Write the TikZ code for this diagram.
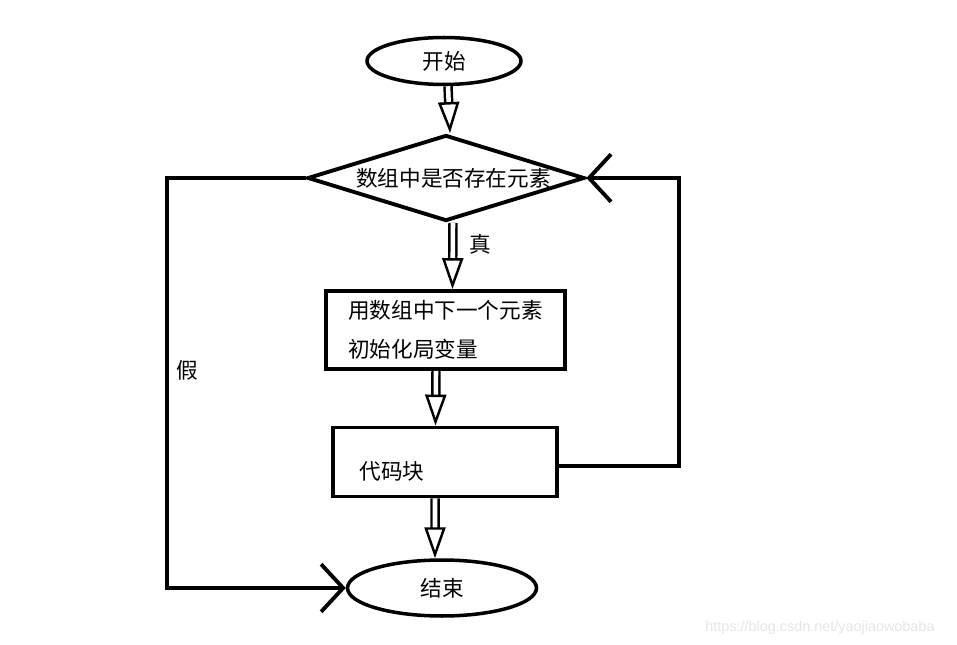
\documentclass[tikz,border=0pt]{standalone}
\usepackage{fontspec}
\newfontfamily\cjk{Noto Sans CJK SC}
\setsansfont{Liberation Sans}
\usetikzlibrary{shapes.geometric,arrows.meta,positioning}
\tikzset{
    terminal/.style = {ellipse,
                    fill=white,
                    draw=black,
                    text=black,
                    line width=2pt,
                    inner sep=0pt},
    test/.style =   {diamond,
                    fill=white,
                    draw=black,
                    text=black,
                    line width=2.2pt,
                    aspect=3.22,
                    inner sep=0pt,
                    minimum width=5.54cm,
                    minimum height=1.72cm},
    stepbox/.style = {rectangle,
                    fill=white,
                    draw=black,
                    text=black,
                    line width=2.2pt,
                    align=left},
    hollow/.style = {double=white,
                    draw=black,
                    double distance=2.6pt,
                    line width=1.4pt,
                    -{Triangle[open,length=0.62cm,width=0.42cm]}},
    barb/.style =   {draw=black,
                    line width=2.2pt,
                    -{Straight Barb[length=0.44cm,width=0.95cm]}},
    every node/.style = {font=\cjk\fontsize{12.3}{15}\selectfont}
}

\begin{document}
\begin{tikzpicture}[x=0.02cm,y=-0.02cm]
    \useasboundingbox (0,0) rectangle (957,645);

    \node[terminal, minimum width=3.08cm, minimum height=0.94cm]    (start) at (444,61)     {开始};
    \node[test]                                                     (dia)   at (446,178)    {\hspace*{0.3cm}数组中是否存在元素};
    \node[stepbox, minimum width=4.78cm, minimum height=1.56cm]     (init)  at (445.5,330)  {用数组中下一个元素\\[0.26cm]初始化局变量};
    \node[stepbox, minimum width=4.48cm, minimum height=1.38cm, text width=4.1cm] (code) at (445,462) {\hspace*{0.34cm}\raisebox{-0.36cm}[0pt][0pt]{代码块}};
    \node[terminal, minimum width=3.78cm, minimum height=1.12cm]    (stop)  at (442,588)    {结束};

    \coordinate (cf) at (167,178);
    \coordinate (cl) at (679,178);

    \node (yes) at (480,244) {真};
    \node (no)  at (187,370) {假};

    % hollow arrows down the middle
    \draw[hollow] ([xshift=0.08cm]start.south) -- ([xshift=0.08cm]dia.north);
    \draw[hollow] ([xshift=0.14cm]dia.south)   -- ([xshift=0.14cm]init.north);
    \draw[hollow] ([xshift=-0.19cm]init.south) -- ([xshift=-0.19cm]code.north);
    \draw[hollow] ([xshift=-0.2cm]code.south)  -- ([xshift=-0.14cm]stop.north);

    % false branch and loop back
    \draw[barb] (dia.west) -- (cf) |- (stop.west);
    \draw[barb] ([yshift=-0.08cm]code.east) -| (cl) -- (dia.east);

    \node[font=\sffamily\fontsize{8.2}{10}\selectfont, text=black!10] (mark) at (820,628) {https://blog.csdn.net/yaojiaowobaba};
\end{tikzpicture}
\end{document}
